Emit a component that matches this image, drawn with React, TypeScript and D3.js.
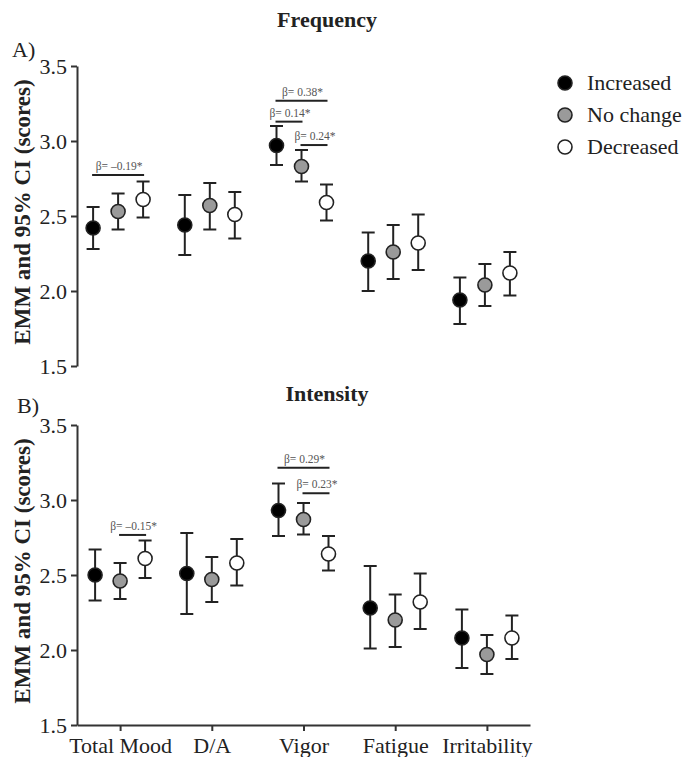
import React, { useEffect, useRef } from "react";
import * as d3 from "d3";

const categories = ["Total Mood", "D/A", "Vigor", "Fatigue", "Irritability"];
const groups = ["Increased", "No change", "Decreased"];
const yTicks = [1.5, 2.0, 2.5, 3.0, 3.5];

// [mean, lower CI, upper CI] per category
const freqIncreased = [[2.42, 2.28, 2.56], [2.44, 2.24, 2.64], [2.97, 2.84, 3.10], [2.20, 2.00, 2.39], [1.94, 1.78, 2.09]];
const freqNoChange = [[2.53, 2.41, 2.65], [2.57, 2.41, 2.72], [2.83, 2.73, 2.94], [2.26, 2.08, 2.44], [2.04, 1.90, 2.18]];
const freqDecreased = [[2.61, 2.49, 2.73], [2.51, 2.35, 2.66], [2.59, 2.47, 2.71], [2.32, 2.14, 2.51], [2.12, 1.97, 2.26]];

const intIncreased = [[2.50, 2.33, 2.67], [2.51, 2.24, 2.78], [2.93, 2.76, 3.11], [2.28, 2.01, 2.56], [2.08, 1.88, 2.27]];
const intNoChange = [[2.46, 2.34, 2.58], [2.47, 2.32, 2.62], [2.87, 2.77, 2.98], [2.20, 2.02, 2.37], [1.97, 1.84, 2.10]];
const intDecreased = [[2.61, 2.48, 2.73], [2.58, 2.43, 2.74], [2.64, 2.53, 2.76], [2.32, 2.14, 2.51], [2.08, 1.94, 2.23]];

// significance: [category, fromGroup, toGroup, barLevel, label]
const freqSig: [string, string, string, number, string][] = [
  ["Total Mood", "Increased", "Decreased", 2.773, "β= –0.19*"],
  ["Vigor", "Increased", "Decreased", 3.269, "β= 0.38*"],
  ["Vigor", "Increased", "No change", 3.129, "β= 0.14*"],
  ["Vigor", "No change", "Decreased", 2.973, "β= 0.24*"],
];
const intSig: [string, string, string, number, string][] = [
  ["Total Mood", "No change", "Decreased", 2.767, "β= –0.15*"],
  ["Vigor", "Increased", "Decreased", 3.215, "β= 0.29*"],
  ["Vigor", "No change", "Decreased", 3.045, "β= 0.23*"],
];

const fills: Record<string, string> = { Increased: "#000000", "No change": "#9a9a9a", Decreased: "#ffffff" };
const FONT = "'Liberation Serif', 'Times New Roman', serif";
const INK = "#222";

const x = d3.scalePoint<string>().domain(categories).range([77, 530]).padding(0.47);
const dodge = d3.scalePoint<string>().domain(groups).range([-25, 25]);

type PanelProps = {
  yTop: number;
  yBottom: number;
  xShift: number;
  series: number[][][];
  sig: [string, string, string, number, string][];
  showXAxis: boolean;
  title: string;
  titleY: number;
  letter: string;
  letterX: number;
  letterY: number;
};

function Panel(p: PanelProps) {
  const yRef = useRef<SVGGElement>(null);
  const xRef = useRef<SVGGElement>(null);
  const y = d3.scaleLinear().domain([1.5, 3.5]).range([p.yBottom, p.yTop]);

  useEffect(() => {
    if (yRef.current) {
      const g = d3.select(yRef.current);
      g.selectAll("*").remove();
      g.call(d3.axisLeft(y).tickValues(yTicks).tickFormat(d3.format(".1f")).tickSize(6).tickPadding(4).tickSizeOuter(0));
      g.select(".domain").attr("stroke", "#333").attr("stroke-width", 2);
      g.selectAll(".tick line").attr("stroke", "#333").attr("stroke-width", 2);
      g.selectAll(".tick text").attr("font-size", 22).attr("font-family", FONT).attr("fill", INK);
    }
    if (xRef.current && p.showXAxis) {
      const g = d3.select(xRef.current);
      g.selectAll("*").remove();
      g.call(d3.axisBottom(x).tickSize(6).tickPadding(6).tickSizeOuter(0));
      g.select(".domain").attr("stroke", "#333").attr("stroke-width", 2);
      g.selectAll(".tick line").attr("stroke", "#333").attr("stroke-width", 2);
      g.selectAll(".tick text").attr("font-size", 22).attr("font-family", FONT).attr("fill", INK);
    }
  });

  const px = (c: string, gName: string) => (x(c) as number) + (dodge(gName) as number) + p.xShift;
  const cap = 6.5;

  return (
    <g>
      <text x={327} y={p.titleY} textAnchor="middle" fontFamily={FONT} fontWeight="bold" fontSize={22} fill={INK}>
        {p.title}
      </text>
      <text x={p.letterX} y={p.letterY} fontFamily={FONT} fontSize={22} fill={INK}>
        {p.letter}
      </text>
      <text
        transform={`translate(30, ${(p.yTop + p.yBottom) / 2 - 4}) rotate(-90)`}
        textAnchor="middle"
        fontFamily={FONT}
        fontWeight="bold"
        fontSize={23}
        fill={INK}
      >
        EMM and 95% CI (scores)
      </text>
      <g ref={yRef} transform="translate(77,0)" />
      {p.showXAxis && <g ref={xRef} transform={`translate(0,${p.yBottom})`} />}
      {groups.map((gName, gi) =>
        categories.map((c, ci) => {
          const [m, lo, hi] = p.series[gi][ci];
          const cx = px(c, gName);
          return (
            <g key={gName + c}>
              <line x1={cx} x2={cx} y1={y(lo)} y2={y(hi)} stroke={INK} strokeWidth={2} />
              <line x1={cx - cap} x2={cx + cap} y1={y(lo)} y2={y(lo)} stroke={INK} strokeWidth={2} />
              <line x1={cx - cap} x2={cx + cap} y1={y(hi)} y2={y(hi)} stroke={INK} strokeWidth={2} />
              <circle cx={cx} cy={y(m)} r={7} fill={fills[gName]} stroke={INK} strokeWidth={1.6} />
            </g>
          );
        })
      )}
      {p.sig.map(([c, g1, g2, lvl, label], i) => {
        const x1 = px(c, g1);
        const x2 = px(c, g2);
        const yy = y(lvl);
        return (
          <g key={"s" + i}>
            <line x1={x1 - 1} x2={x2 + 1} y1={yy} y2={yy} stroke={INK} strokeWidth={2} />
            <text x={(x1 + x2) / 2 + 1} y={yy - 5} textAnchor="middle" fontFamily={FONT} fontSize={11.5} fill="#555">
              {label}
            </text>
          </g>
        );
      })}
    </g>
  );
}

export default function App() {
  const legendY = d3.scalePoint<string>().domain(groups).range([83, 147]);
  return (
    <svg width={685} height={757} style={{ position: "absolute", left: 0, top: 0, background: "#fff" }}>
      <rect width={685} height={757} fill="#fff" />
      <Panel
        yTop={66}
        yBottom={366}
        xShift={-2}
        series={[freqIncreased, freqNoChange, freqDecreased]}
        sig={freqSig}
        showXAxis={false}
        title="Frequency"
        titleY={27}
        letter="A)"
        letterX={12}
        letterY={57}
      />
      <Panel
        yTop={425}
        yBottom={725}
        xShift={0}
        series={[intIncreased, intNoChange, intDecreased]}
        sig={intSig}
        showXAxis={true}
        title="Intensity"
        titleY={401}
        letter="B)"
        letterX={17}
        letterY={413}
      />
      {groups.map((gName) => (
        <g key={"lg" + gName}>
          <circle cx={565} cy={legendY(gName) as number} r={7} fill={fills[gName]} stroke={INK} strokeWidth={1.6} />
          <text x={587} y={(legendY(gName) as number) + 7} fontFamily={FONT} fontSize={22} fill={INK}>
            {gName}
          </text>
        </g>
      ))}
    </svg>
  );
}
